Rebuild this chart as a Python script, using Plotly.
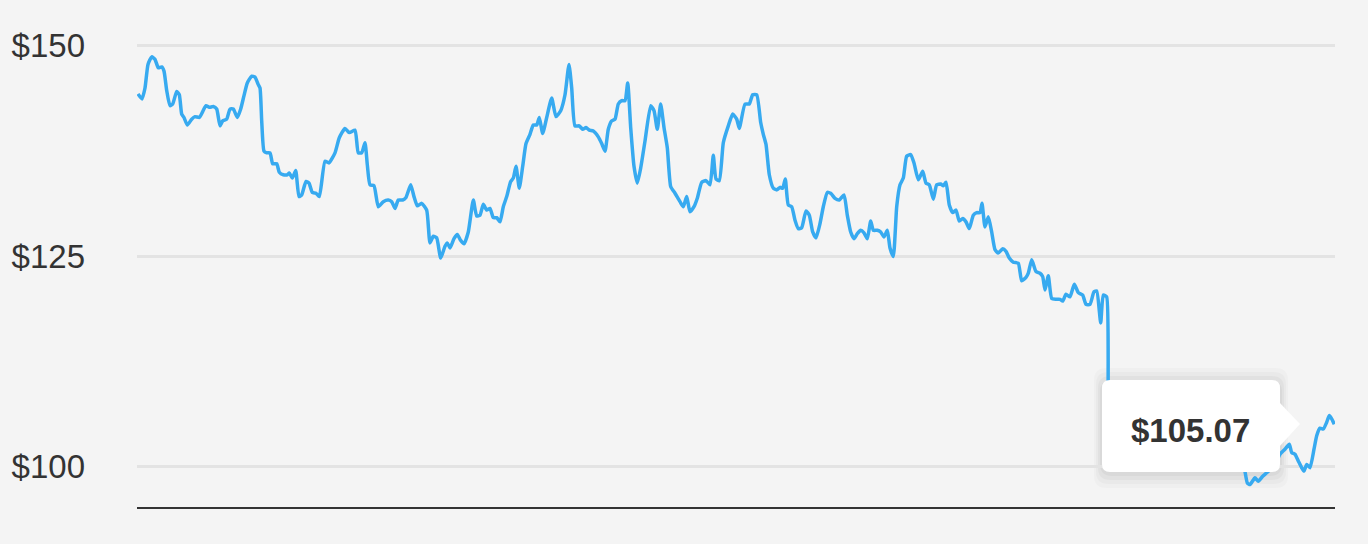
import plotly.graph_objects as go

# ---- data (time offset in observation units, closing price in $) ----
t_a = [0, 4, 7, 10, 13.7, 17, 20.3, 23.7, 26, 28.7,
       32, 34.7, 38.7, 41.3, 43.7, 46, 49.3, 53.7, 57, 61.3,
       64.7, 68, 71.3, 75.3, 78.7, 82, 84.7, 88.7, 92, 95.3,
       99.3, 102.7, 106, 109.3, 113.7, 117, 120.3, 122, 123.7, 126,
       128.7, 132, 134.7, 138.7, 141.3, 145.3, 149.3, 151.3, 154.3, 157.7,
       161, 163.7, 168, 171, 174.3, 178, 181.3, 187, 191]
p_a = [144.3, 143.7, 145.0, 147.8, 148.7, 148.4, 147.4, 147.5, 147.0, 144.7,
       142.9, 143.1, 144.6, 144.2, 141.9, 141.5, 140.6, 141.3, 141.6, 141.5,
       142.2, 142.9, 142.7, 142.8, 142.5, 140.5, 141.1, 141.3, 142.5, 142.5,
       141.5, 142.5, 144.1, 145.6, 146.4, 146.3, 145.4, 145.0, 141.1, 137.5,
       137.3, 137.3, 136.0, 136.0, 135.0, 134.7, 134.7, 134.9, 134.3, 135.2,
       132.1, 132.3, 133.9, 133.7, 132.6, 132.5, 132.1, 136.3, 136.1]

t_b = [197, 201.3, 207, 211.3, 217, 220.3, 223.7, 227, 229.3, 232,
       236, 240.3, 245.3, 250.3, 253.7, 257, 260.3, 264.7, 268, 272.7,
       276, 279.3, 283.7, 288.7, 292, 295.3, 298.7, 302.7, 307, 309.3,
       312, 316, 319.3, 322.7, 326, 330.3, 335.3, 338.7, 342, 345.3,
       348.7, 352, 355.3, 358.7, 362, 365.3, 368.7, 372.7, 375.3, 378,
       381.3, 384.7, 388, 392, 395.3, 398.7, 401.3]
p_b = [137.3, 139.1, 140.2, 139.7, 140.0, 137.3, 137.3, 138.5, 135.9, 133.5,
       133.4, 130.9, 131.5, 131.7, 131.5, 130.7, 131.7, 131.7, 132.0, 133.5,
       132.1, 131.0, 131.3, 130.5, 126.6, 127.4, 127.2, 124.8, 126.2, 126.6,
       126.0, 127.1, 127.6, 126.9, 126.5, 127.9, 131.7, 129.8, 129.9, 131.2,
       130.5, 130.7, 129.6, 129.6, 129.1, 130.9, 132.1, 133.9, 134.3, 135.7,
       133.1, 135.7, 138.4, 139.5, 140.6, 140.6, 141.5]

t_c = [404.7, 408.7, 413.7, 418, 422.7, 427, 431, 433.7, 437, 441.3,
       444.7, 448, 451.3, 455.3, 460.3, 463.7, 467, 470.3, 473.7, 477,
       480.3, 483.7, 487, 489.7, 492.7, 496, 499.3, 502.7, 507, 512.7,
       516, 519.3, 522.7, 526, 529.3, 532.7, 537, 542, 545.3, 548.7,
       552, 556, 559.3, 563.7, 568, 572, 575.3, 578, 581.3, 585.3,
       590.3, 594.7, 598.7, 601.3]
p_c = [139.6, 141.5, 143.8, 141.6, 142.3, 144.2, 147.8, 145.0, 140.5, 140.5,
       140.1, 140.3, 140.0, 139.9, 139.2, 138.4, 137.5, 140.1, 141.1, 141.3,
       143.1, 143.5, 143.5, 145.6, 140.3, 135.7, 133.7, 135.5, 138.7, 142.9,
       142.3, 140.1, 143.1, 140.3, 137.9, 133.3, 132.5, 131.5, 130.9, 132.1,
       130.3, 130.9, 131.9, 133.8, 134.0, 133.5, 137.0, 134.2, 134.0, 138.5,
       140.5, 141.9, 141.3, 140.2]

t_d = [607, 611.3, 614.7, 618.7, 622.7, 625.3, 628, 631.3, 635.3, 638.7,
       642, 644.7, 647.3, 650.3, 653.7, 657, 660.3, 663.7, 668, 671.3,
       674.7, 678, 682, 685.3, 689.3, 692.7, 697, 701.3, 706, 709.3,
       712.7, 716, 719.3, 722.7, 726, 729.3, 732.7, 735.3, 739.3, 742.7,
       746, 749.3, 752, 755.3, 758.7, 762, 765.3, 768.7, 772.7, 776,
       780.3, 784.7, 788, 791.3, 795.3, 798.7]
p_d = [143.1, 143.1, 144.2, 144.2, 140.9, 139.5, 138.3, 134.7, 133.1, 132.9,
       133.2, 133.1, 134.2, 131.1, 130.9, 129.3, 128.3, 128.4, 130.4, 129.9,
       127.9, 127.2, 128.9, 130.9, 132.6, 132.5, 131.9, 131.7, 132.3, 129.9,
       127.9, 127.1, 127.7, 128.1, 127.8, 127.1, 129.2, 128.1, 128.1, 127.9,
       127.3, 128.1, 126.0, 125.0, 130.9, 133.5, 134.3, 136.9, 137.1, 136.1,
       134.1, 135.1, 133.7, 133.5, 131.8, 133.5]

t_e = [802.7, 805.3, 808, 811.3, 814.7, 818, 821.3, 824.7, 828, 831.3,
       835.3, 838.7, 842, 844, 847, 850.3, 853.7, 857, 860.3, 864.7,
       868, 871.3, 875.3, 880.3, 883.7, 888, 890.3, 893.7, 898, 902,
       904.7, 907, 910.3, 913.7, 918, 922, 924.7, 928, 932, 936.3,
       940.3, 944.7, 948, 952, 956, 958.7, 962.7, 965.3, 968.7]
p_e = [133.6, 133.4, 133.8, 131.1, 130.2, 130.5, 129.2, 129.5, 129.1, 128.3,
       129.9, 130.2, 130.2, 131.3, 128.5, 129.7, 127.9, 125.8, 125.4, 125.9,
       125.6, 124.8, 124.3, 124.2, 122.1, 122.5, 123.0, 124.6, 123.2, 123.0,
       122.6, 121.0, 122.7, 120.0, 119.9, 119.9, 119.7, 120.5, 120.2, 121.7,
       120.7, 120.4, 119.3, 119.3, 120.8, 120.9, 117.1, 120.4, 120.2]

# (this stretch sits behind the tooltip in the reference; values estimated)
t_f = [971, 975, 982, 990, 998, 1007, 1015, 1024, 1032, 1040,
       1049, 1057, 1066, 1074, 1082, 1090, 1098, 1105]
p_f = [104.5, 105.5, 103.8, 106.0, 104.2, 102.5, 104.8, 103.0, 101.8, 104.0,
       102.2, 100.9, 103.1, 101.6, 102.8, 100.6, 101.2, 100.5]

t_g = [1109.3, 1112, 1117, 1120.3, 1124.7, 1128.7, 1133.7, 1138.7, 1142, 1147,
       1151.3, 1153.7, 1157, 1160.3, 1163.7, 1166, 1168.7, 1172, 1176, 1178.7,
       1182, 1185.3, 1188.7, 1191.3, 1193.7, 1196.3]
p_g = [98.1, 97.9, 98.7, 98.3, 98.9, 99.3, 99.9, 100.7, 101.5, 102.1,
       102.7, 101.7, 101.5, 100.7, 99.9, 99.5, 100.3, 99.9, 102.1, 103.7,
       104.6, 104.5, 105.3, 106.1, 105.7, 105.07]

t_all = t_a + t_b + t_c + t_d + t_e + t_f + t_g
price = p_a + p_b + p_c + p_d + p_e + p_f + p_g
assert len(t_all) == len(price)

tick_vals = [100, 125, 150]
tick_text = ["$100", "$125", "$150"]
tooltip_text = "$105.07"

FONT = "Liberation Sans, Arial, Helvetica, sans-serif"
W, H = 1368, 544
ML, MR, MT, MB = 137, 33, 30, 35
PW, PH = W - ML - MR, H - MT - MB
Y0 = 95
Y1 = Y0 + PH / 8.42


def px(x):
    return (x - ML) / PW


def py(y):
    return (H - MB - y) / PH


def rrect(x0, y0, x1, y1, r):
    rx, ry = r / PW, r / PH
    a, b, c, d = px(x0), px(x1), py(y0), py(y1)  # c top, d bottom
    return (f"M{a+rx},{c} L{b-rx},{c} Q{b},{c} {b},{c-ry} "
            f"L{b},{d+ry} Q{b},{d} {b-rx},{d} L{a+rx},{d} "
            f"Q{a},{d} {a},{d+ry} L{a},{c-ry} Q{a},{c} {a+rx},{c} Z")


fig = go.Figure()
fig.add_trace(go.Scatter(
    x=t_all, y=price, mode="lines",
    line=dict(color="#37aaf0", width=3.5, shape="spline", smoothing=0.5),
    hoverinfo="skip", showlegend=False))

shapes = [
    # baseline
    dict(type="line", xref="paper", yref="y", x0=0, x1=1, y0=Y0, y1=Y0,
         line=dict(color="#333333", width=4), layer="above"),
]
# tooltip shadow (soft, mostly below the box)
for grow, alpha in [(16, 0.02), (12, 0.025), (8, 0.03), (4, 0.035)]:
    shapes.append(dict(type="path", xref="paper", yref="paper",
                       path=rrect(1102 - grow / 2, 380 - grow + 4, 1280 + grow / 2, 472 + grow, 12),
                       fillcolor=f"rgba(0,0,0,{alpha})", line=dict(width=0), layer="between"))
# tooltip box + pointer
shapes.append(dict(type="path", xref="paper", yref="paper",
                   path=rrect(1102, 380, 1280, 472, 8),
                   fillcolor="#ffffff", line=dict(width=0), layer="above"))
shapes.append(dict(type="path", xref="paper", yref="paper",
                   path=f"M{px(1279)},{py(402)} L{px(1300)},{py(424)} L{px(1279)},{py(447)} Z",
                   fillcolor="#ffffff", line=dict(width=0), layer="above"))

fig.update_layout(
    width=W, height=H,
    margin=dict(l=ML, r=MR, t=MT, b=MB, pad=0),
    paper_bgcolor="#f4f4f4", plot_bgcolor="#f4f4f4",
    font=dict(family=FONT, color="#333333"),
    showlegend=False, hovermode=False,
    xaxis=dict(range=[-1, 1197], showgrid=False, zeroline=False,
               showticklabels=False, showline=False, fixedrange=True),
    yaxis=dict(range=[Y0, Y1], tickvals=tick_vals, ticktext=tick_text,
               showgrid=True, gridcolor="#e3e3e3", gridwidth=3,
               zeroline=False, showline=False, ticks="",
               tickfont=dict(size=33, color="#333333", family=FONT),
               ticklabelstandoff=51, fixedrange=True),
    shapes=shapes,
    annotations=[dict(xref="paper", yref="paper", x=px(1190), y=py(430),
                      text=f"<b>{tooltip_text}</b>", showarrow=False,
                      font=dict(size=33, color="#333333", family=FONT),
                      xanchor="center", yanchor="middle")],
)

fig.write_html("out.html", config={"displayModeBar": False},
               post_script="document.body.style.margin='0';document.body.style.background='#f4f4f4';")
